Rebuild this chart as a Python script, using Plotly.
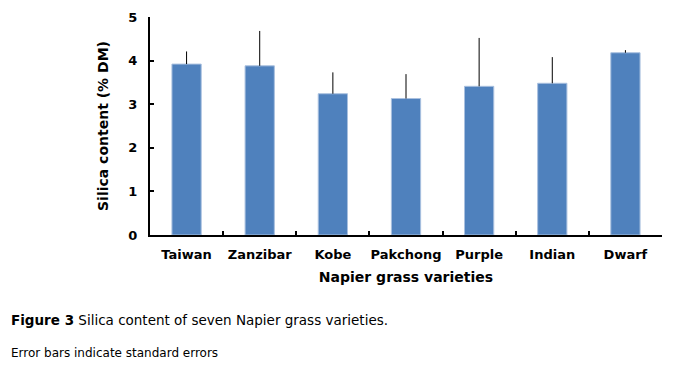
import plotly.graph_objects as go

varieties = ["Taiwan", "Zanzibar", "Kobe", "Pakchong", "Purple", "Indian", "Dwarf"]
silica = [3.92, 3.88, 3.24, 3.13, 3.41, 3.48, 4.18]
std_err = [0.29, 0.80, 0.49, 0.56, 1.11, 0.60, 0.06]
y_ticks = [0, 1, 2, 3, 4, 5]

FONT = "DejaVu Sans"

fig = go.Figure()
fig.add_trace(go.Bar(
    x=varieties,
    y=silica,
    marker=dict(color="#4f81bd", line=dict(color="#a9c0df", width=1)),
    error_y=dict(type="data", array=std_err, arrayminus=[0] * len(std_err),
                 symmetric=False, color="black", thickness=1, width=0),
))

# page body has an 8px margin, so the figure is offset by 8px
fig.update_layout(
    width=674, height=357,
    margin=dict(l=142, r=20, t=9, b=130),
    paper_bgcolor="white", plot_bgcolor="white",
    bargap=0.6,
    showlegend=False,
    font=dict(family=FONT, color="black"),
)
fig.update_xaxes(
    type="category", automargin=False, tickangle=0,
    showline=True, linecolor="black", linewidth=2,
    ticks="inside", ticklen=4, tickwidth=2, tickcolor="black",
    tickson="boundaries",
    showgrid=False, zeroline=False,
    ticklabelstandoff=6,
    tickfont=dict(family=FONT, size=13, color="black", weight="bold"),
    title=dict(text="<b>Napier grass varieties</b>", font=dict(family=FONT, size=14, color="black"), standoff=12),
)
fig.update_yaxes(
    range=[0, 5], tickvals=y_ticks, automargin=False,
    showline=True, linecolor="black", linewidth=2,
    ticks="inside", ticklen=4, tickwidth=2, tickcolor="black",
    showgrid=False, zeroline=False,
    ticklabelstandoff=8,
    tickfont=dict(family=FONT, size=13, color="black", weight="bold"),
    title=dict(text="<b>Silica content (% DM)</b>", font=dict(family=FONT, size=14, color="black"), standoff=16),
)

fig.add_annotation(
    xref="paper", yref="paper", x=(9 - 150) / 512, y=(235 - 320) / 218,
    xanchor="left", yanchor="middle", showarrow=False,
    text="<b>Figure 3</b> Silica content of seven Napier grass varieties.",
    font=dict(family=FONT, size=13.5, color="black"),
)
fig.add_annotation(
    xref="paper", yref="paper", x=(9 - 150) / 512, y=(235 - 353) / 218,
    xanchor="left", yanchor="middle", showarrow=False,
    text="Error bars indicate standard errors",
    font=dict(family=FONT, size=12, color="black"),
)

fig.write_html("out.html")
